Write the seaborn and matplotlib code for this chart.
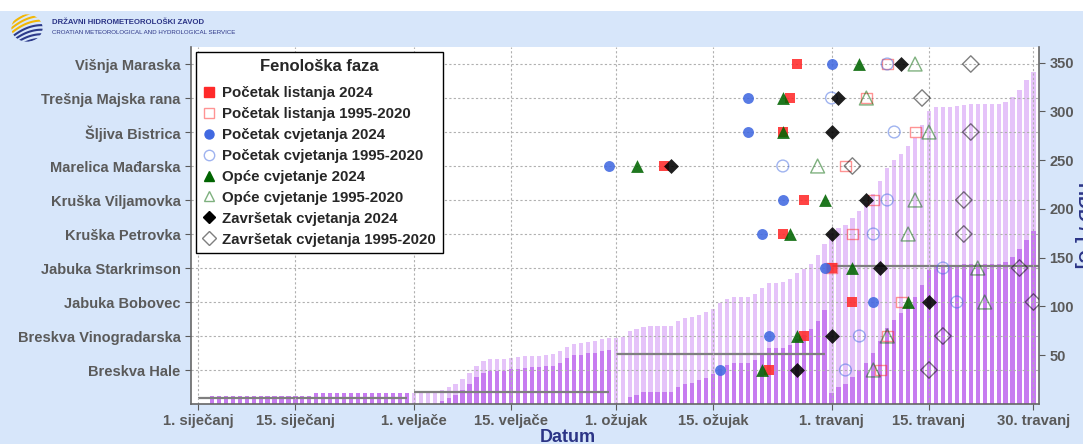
import numpy as np
import pandas as pd
import matplotlib
matplotlib.use("Agg")
from matplotlib import pyplot as plt
from matplotlib.lines import Line2D
from matplotlib.patches import Rectangle, Ellipse
import seaborn as sns

sns.set_style("ticks")
plt.rcParams['font.family'] = ['Liberation Sans', 'DejaVu Sans']
plt.rcParams['font.weight'] = 'bold'

# kulture, od vrha prema dnu
plants = ["Višnja Maraska", "Trešnja Majska rana", "Šljiva Bistrica", "Marelica Mađarska",
          "Kruška Viljamovka", "Kruška Petrovka", "Jabuka Starkrimson", "Jabuka Bobovec",
          "Breskva Vinogradarska", "Breskva Hale"]

# dan u godini (1 = 1. siječanj 2024)
listanje_2024 = [87, 86, 85, 68, 88, 85, 92, 95, 88, 83]
listanje_clim = [100, 97, 104, 94, 98, 95, 92, 102, 100, 99]
cvjetanje_2024 = [92, 80, 80, 60, 85, 82, 91, 98, 83, 76]
cvjetanje_clim = [100, 92, 101, 85, 100, 98, 108, 110, 96, 94]
opce_2024 = [96, 85, 85, 64, 91, 86, 95, 103, 87, 82]
opce_clim = [104, 97, 106, 90, 104, 103, 113, 114, 100, 98]
zavrsetak_2024 = [102, 93, 92, 69, 97, 92, 99, 106, 92, 87]
zavrsetak_clim = [112, 105, 112, 95, 111, 111, 119, 121, 108, 106]

tick_days = [1, 15, 32, 46, 61, 75, 92, 106, 121]
tick_labels = ["1. siječanj", "15. siječanj", "1. veljače", "15. veljače", "1. ožujak",
               "15. ožujak", "1. travanj", "15. travanj", "30. travanj"]

# kumulativni HDD od 1. siječnja
hdd_total_jan = [0, 0, 7.9, 7.9, 7.9, 7.9, 7.9, 7.9, 7.9, 7.9, 7.9, 7.9, 7.9, 7.9, 7.9, 7.9, 7.9,
                 11.0, 11.0, 11.0, 11.0, 11.0, 11.0, 11.0, 11.6, 11.6, 11.6, 11.6, 11.6, 11.6, 11.6]
hdd_total_feb = [11.6, 11.6, 11.6, 11.6, 14.6, 17.8, 20.5, 26.0, 32.1, 39.0, 43.8, 45.8, 45.8, 45.8,
                 47.2, 47.9, 48.9, 49.6, 49.6, 50.3, 50.9, 54.0, 58.5, 61.9, 62.2, 64.0, 64.3, 66.3, 67.3]
hdd_total_mar = [67.3, 68.8, 74.5, 76.5, 79.3, 79.9, 79.9, 79.9, 79.9, 84.9, 87.7, 89.1, 91.5, 94.3,
                 97.9, 103.3, 107.3, 109.7, 109.7, 109.7, 112.3, 118.7, 124.3, 124.3, 124.9, 127.7,
                 134.1, 137.9, 143.8, 152.8, 163.6]
hdd_total_apr = [175.2, 180.7, 184.0, 190.8, 198.2, 206.1, 215.6, 228.4, 241.6, 250.2, 256.8, 264.3,
                 273.1, 285.8, 300.8, 304.8, 304.8, 304.8, 305.1, 306.8, 307.4, 307.4, 307.4, 307.4,
                 307.4, 309.3, 314.4, 322.0, 332.2, 340.6]

# kumulativni HDD od pocetka mjeseca
hdd_month_jan = hdd_total_jan
hdd_month_feb = [0, 0, 0, 0, 3.0, 6.2, 8.9, 14.4, 20.5, 27.4, 32.2, 34.2, 34.2, 34.2, 35.6, 36.3,
                 37.3, 38.0, 38.0, 38.7, 39.3, 42.4, 46.9, 50.3, 50.6, 52.4, 52.7, 54.7, 55.7]
hdd_month_mar = [0, 1.5, 7.2, 9.2, 12.0, 12.6, 12.6, 12.6, 12.6, 17.6, 20.4, 21.8, 24.2, 27.0, 30.6,
                 36.0, 40.0, 42.4, 42.4, 42.4, 45.0, 51.4, 57.0, 57.0, 57.6, 60.4, 66.8, 70.6, 76.5,
                 85.5, 96.3]
hdd_month_apr = [11.6, 17.1, 20.4, 27.2, 34.6, 42.5, 52.0, 64.8, 78.0, 86.6, 93.2, 100.7, 109.5,
                 122.2, 137.2, 141.2, 141.2, 141.2, 141.5, 143.2, 143.8, 143.8, 143.8, 143.8, 143.8,
                 145.7, 150.8, 158.4, 168.6, 177.0]

# mjesecni prosjek 1995-2020
month_start = [1, 32, 61, 92]
month_end = [31, 60, 91, 122]
month_clim = [6.5, 12.6, 51.0, 141.7]

hdd = pd.DataFrame({
    "dan": np.arange(1, 122),
    "ukupno": hdd_total_jan + hdd_total_feb + hdd_total_mar + hdd_total_apr,
    "mjesecno": hdd_month_jan + hdd_month_feb + hdd_month_mar + hdd_month_apr,
})

navy = "#2b3486"
grey_txt = "#5a5a5a"
bg = "#d7e6fa"

W, H = 1083, 444
fig = plt.figure(figsize=(W / 100, H / 100), dpi=100, facecolor="white")
fig.add_artist(Rectangle((0, 0), 1, 1 - 11 / H, transform=fig.transFigure,
                         facecolor=bg, edgecolor="none", zorder=-10))

pos = [191 / W, (H - 404) / H, (1039 - 191) / W, (404 - 47) / H]
ax = fig.add_axes(pos)
sns.barplot(data=hdd, x="dan", y="ukupno", native_scale=True, color="#e5c3f9",
            saturation=1, width=0.6, linewidth=0, errorbar=None, ax=ax)
sns.barplot(data=hdd, x="dan", y="mjesecno", native_scale=True, color="#c77cf0",
            saturation=1, width=0.6, linewidth=0, errorbar=None, ax=ax)
ax.hlines(month_clim, month_start, month_end, color="#7f7f7f", lw=1.6, zorder=5)
ax.set_ylim(0, 366)
ax.set_xlim(0, 121.8)
ax.set_ylabel("")
ax.set_xlabel("")
for s in ax.spines.values():
    s.set_visible(False)

axm = ax.twinx()
ax.yaxis.tick_right()
axm.yaxis.tick_left()
ax.set_yticks([50, 100, 150, 200, 250, 300, 350])
ax.tick_params(axis="y", labelsize=10.5, labelcolor=grey_txt, color=grey_txt, length=4)
ax.set_xticks(tick_days)
ax.set_xticklabels(tick_labels)
ax.tick_params(axis="x", labelsize=10.7, labelcolor=grey_txt, color=grey_txt, length=4)

axm.set_ylim(0, 10.5)
rows = [10 - i for i in range(len(plants))]
axm.set_yticks(rows)
axm.set_yticklabels(plants)
axm.tick_params(axis="y", labelsize=10.5, labelcolor=grey_txt, color=grey_txt, length=4)
axm.xaxis.set_visible(True)
axm.tick_params(axis="x", bottom=False, labelbottom=False)
axm.grid(True, ls=(0, (2, 2)), color="#b0b0b0", lw=0.8)
for side in ["left", "bottom", "right"]:
    axm.spines[side].set_color("#666666")
    axm.spines[side].set_linewidth(1.2)
axm.spines["top"].set_visible(False)

red, blue, green, black = "#ff2a2a", "#4169e1", "#006400", "#000000"
phases = [
    (listanje_2024, "s", red, True, 55, "Početak listanja 2024"),
    (listanje_clim, "s", red, False, 62, "Početak listanja 1995-2020"),
    (cvjetanje_2024, "o", blue, True, 62, "Početak cvjetanja 2024"),
    (cvjetanje_clim, "o", blue, False, 72, "Početak cvjetanja 1995-2020"),
    (opce_2024, "^", green, True, 85, "Opće cvjetanje 2024"),
    (opce_clim, "^", green, False, 100, "Opće cvjetanje 1995-2020"),
    (zavrsetak_2024, "D", black, True, 58, "Završetak cvjetanja 2024"),
    (zavrsetak_clim, "D", black, False, 70, "Završetak cvjetanja 1995-2020"),
]
handles = []
for days, mk, col, filled, size, label in phases:
    if filled:
        axm.scatter(days, rows, marker=mk, s=size, color=col, alpha=0.88, linewidths=0, zorder=6)
        handles.append(Line2D([], [], ls="none", marker=mk, ms=6.5, color=col, label=label))
    else:
        axm.scatter(days, rows, marker=mk, s=size, facecolors="none", edgecolors=col,
                    alpha=0.5, linewidths=1.0, zorder=6)
        handles.append(Line2D([], [], ls="none", marker=mk, ms=7.5, mfc="none", mec=col,
                              alpha=0.5, mew=1.0, label=label))

leg = axm.legend(handles=handles, title="Fenološka faza", loc="upper left",
                 bbox_to_anchor=(0.006, 0.986), borderaxespad=0, fancybox=False,
                 framealpha=1, edgecolor="black", prop={"size": 10.8, "weight": "bold"},
                 title_fontproperties={"size": 12, "weight": "bold"},
                 handlelength=0.8, handletextpad=0.5, labelspacing=0.46, borderpad=0.45)
leg.get_frame().set_linewidth(1.0)
leg._legend_box.sep = 9
leg.set_zorder(20)

fig.text(568 / W, 1 - 437 / H, "Datum", color=navy, fontsize=13, fontweight="bold",
         ha="center", va="center")
fig.text(1074 / W, 1 - 225 / H, "HDD / [°C]", color=navy, fontsize=13, fontweight="bold",
         ha="left", va="center", rotation=270)

# zaglavlje DHMZ
logo = fig.add_axes([11 / W, 1 - 42 / H, 32 / W, 28 / H])
logo.set_xlim(-1, 1)
logo.set_ylim(-1, 1)
logo.axis("off")
clip = Ellipse((0, 0), 1.95, 1.95, transform=logo.transData)
xs = np.linspace(-1, 1, 50)
for i, c in enumerate(np.linspace(-1.3, 1.3, 9)):
    col = "#f2b705" if i >= 5 else "#2c3a8a"
    ln, = logo.plot(xs, 0.45 * xs + c - 0.25 * xs ** 2, color=col, lw=1.5)
    ln.set_clip_path(clip)
fig.text(52 / W, 1 - 23 / H, "DRŽAVNI HIDROMETEOROLOŠKI ZAVOD", color=navy, fontsize=5.6,
         fontweight="bold", va="center")
fig.text(52 / W, 1 - 32.5 / H, "CROATIAN METEOROLOGICAL AND HYDROLOGICAL SERVICE", color=navy,
         fontsize=4.4, fontweight="normal", va="center")

fig.savefig("out.png", dpi=100, facecolor=fig.get_facecolor())
